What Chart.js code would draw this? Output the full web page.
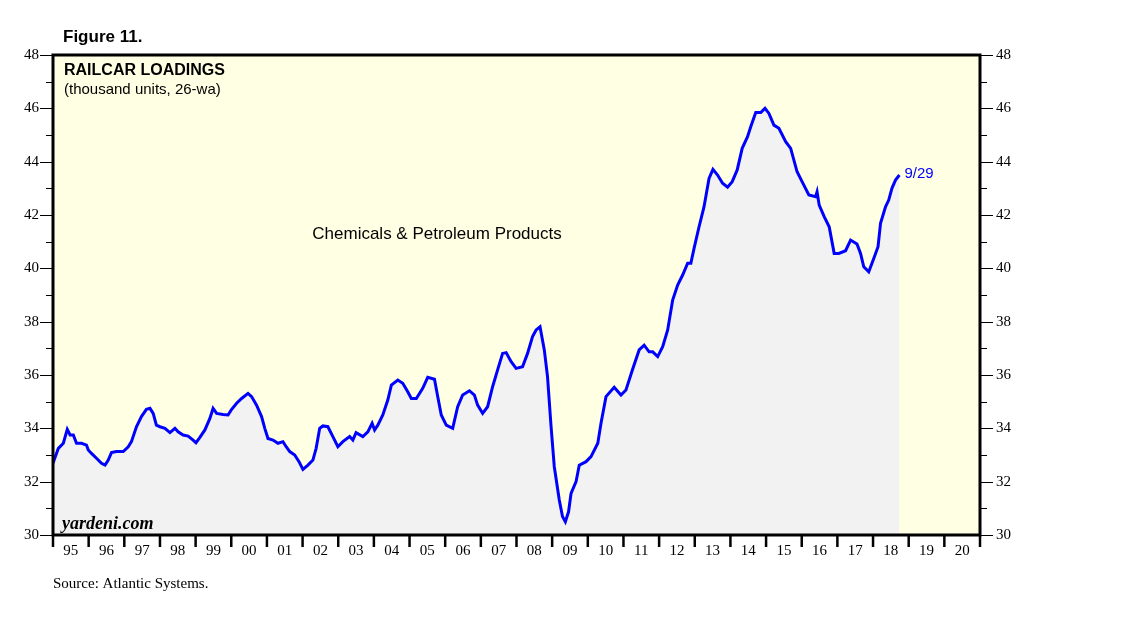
<!DOCTYPE html>
<html lang="en">
<head>
    <meta charset="UTF-8">
    <title>Railcar Loadings</title>
    <style>
        body {
            margin: 0;
            background-color: white;
        }
        #grafico {
            display: block;
        }
    </style>
</head>
<body>
    <canvas id="grafico" width="1138" height="621"></canvas>

    <script src="https://cdn.jsdelivr.net/npm/chart.js"></script>
    <script>
        // decimal years and 26-week average loadings (thousand units)
        const datas = [
            1995.00, 1995.15, 1995.29, 1995.40, 1995.48, 1995.57, 1995.66, 1995.80, 1995.94, 1995.99,
            1996.08, 1996.22, 1996.36, 1996.46, 1996.55, 1996.64, 1996.78, 1996.97,
            1997.11, 1997.20, 1997.34, 1997.48, 1997.62, 1997.72, 1997.81, 1997.90,
            1998.00, 1998.14, 1998.28, 1998.42, 1998.51, 1998.65, 1998.79, 1998.93,
            1999.01, 1999.12, 1999.26, 1999.40, 1999.49, 1999.59, 1999.77, 1999.91,
            2000.00, 2000.15, 2000.29, 2000.47, 2000.57, 2000.71, 2000.85, 2000.94,
            2001.03, 2001.17, 2001.31, 2001.45, 2001.54, 2001.64, 2001.78, 2001.90,
            2002.01, 2002.15, 2002.29, 2002.38, 2002.48, 2002.57, 2002.71, 2002.85, 2002.99,
            2003.13, 2003.32, 2003.41, 2003.50, 2003.69, 2003.83, 2003.95,
            2004.02, 2004.11, 2004.25, 2004.39, 2004.49, 2004.67, 2004.81, 2004.95,
            2005.05, 2005.19, 2005.37, 2005.51, 2005.70, 2005.79, 2005.89,
            2006.03, 2006.21, 2006.35, 2006.49, 2006.68, 2006.82, 2006.91,
            2007.05, 2007.19, 2007.33, 2007.47, 2007.61, 2007.71, 2007.85, 2007.99,
            2008.17, 2008.31, 2008.45, 2008.55, 2008.66, 2008.78, 2008.87, 2008.97,
            2009.06, 2009.20, 2009.29, 2009.37, 2009.46, 2009.53, 2009.67, 2009.76, 2009.95,
            2010.09, 2010.28, 2010.37, 2010.51, 2010.74, 2010.93,
            2011.07, 2011.25, 2011.44, 2011.58, 2011.72, 2011.82, 2011.96,
            2012.10, 2012.24, 2012.38, 2012.52, 2012.66, 2012.80, 2012.89, 2012.98,
            2013.12, 2013.26, 2013.40, 2013.51, 2013.64, 2013.78, 2013.92,
            2014.05, 2014.19, 2014.33, 2014.48, 2014.57, 2014.71, 2014.85, 2014.97,
            2015.08, 2015.22, 2015.36, 2015.55, 2015.69, 2015.87,
            2016.01, 2016.20, 2016.39, 2016.43, 2016.49, 2016.63, 2016.77, 2016.91,
            2017.04, 2017.23, 2017.37, 2017.55, 2017.65, 2017.74, 2017.88,
            2018.02, 2018.14, 2018.21, 2018.35, 2018.44, 2018.53, 2018.63, 2018.74
        ];
        const carregamentos = [
            32.69, 33.25, 33.44, 33.96, 33.75, 33.75, 33.44, 33.44, 33.37, 33.19,
            33.06, 32.88, 32.69, 32.62, 32.81, 33.09, 33.13, 33.13,
            33.31, 33.50, 34.06, 34.44, 34.71, 34.75, 34.56, 34.12,
            34.06, 34.00, 33.84, 34.00, 33.87, 33.75, 33.71, 33.56,
            33.46, 33.66, 33.94, 34.37, 34.75, 34.56, 34.52, 34.50,
            34.69, 34.94, 35.12, 35.31, 35.19, 34.87, 34.44, 34.00,
            33.62, 33.56, 33.44, 33.50, 33.31, 33.13, 33.00, 32.75,
            32.46, 32.62, 32.81, 33.25, 34.00, 34.09, 34.06, 33.69, 33.31,
            33.50, 33.69, 33.56, 33.84, 33.69, 33.87, 34.19,
            33.94, 34.12, 34.50, 35.06, 35.62, 35.81, 35.69, 35.37,
            35.12, 35.12, 35.50, 35.91, 35.84, 35.19, 34.50,
            34.12, 34.00, 34.81, 35.25, 35.41, 35.25, 34.87,
            34.56, 34.81, 35.56, 36.19, 36.81, 36.84, 36.50, 36.25,
            36.31, 36.81, 37.44, 37.69, 37.81, 36.94, 35.94, 34.06,
            32.56, 31.31, 30.69, 30.50, 30.87, 31.56, 32.00, 32.62, 32.75,
            32.94, 33.44, 34.19, 35.19, 35.54, 35.25,
            35.44, 36.19, 36.94, 37.12, 36.87, 36.87, 36.69,
            37.06, 37.69, 38.81, 39.37, 39.75, 40.19, 40.19, 40.75,
            41.56, 42.31, 43.37, 43.71, 43.50, 43.19, 43.04,
            43.25, 43.69, 44.50, 44.94, 45.31, 45.84, 45.84, 46.00,
            45.81, 45.37, 45.25, 44.75, 44.50, 43.62,
            43.25, 42.75, 42.69, 42.87, 42.37, 41.94, 41.56, 40.56,
            40.56, 40.66, 41.06, 40.91, 40.56, 40.06, 39.87,
            40.37, 40.81, 41.69, 42.31, 42.56, 43.00, 43.31, 43.50
        ];
        const anos = ['95', '96', '97', '98', '99', '00', '01', '02', '03', '04', '05', '06', '07',
            '08', '09', '10', '11', '12', '13', '14', '15', '16', '17', '18', '19', '20'];
        const primeiroAno = 1995;
        const valoresY = [30, 32, 34, 36, 38, 40, 42, 44, 46, 48];
        const ultimaData = '9/29';

        const pontos = datas.map((d, i) => ({ x: d, y: carregamentos[i] }));

        // fundo amarelo, moldura, marcas e textos
        const moldura = {
            id: 'moldura',
            beforeDraw(chart) {
                const { ctx, chartArea: a } = chart;
                ctx.save();
                ctx.fillStyle = '#ffffe3';
                ctx.fillRect(a.left, a.top, a.right - a.left, a.bottom - a.top);
                ctx.restore();
            },
            afterDraw(chart) {
                const { ctx, chartArea: a } = chart;
                const x = chart.scales.x;
                const y = chart.scales.y;
                ctx.save();
                ctx.strokeStyle = '#000';
                ctx.fillStyle = '#000';

                // ticks do eixo Y (maiores nos pares)
                ctx.lineWidth = 1.2;
                for (let v = 30; v <= 48; v++) {
                    const py = Math.round(y.getPixelForValue(v)) + 0.5;
                    const len = v % 2 === 0 ? 13 : 7;
                    ctx.beginPath();
                    ctx.moveTo(a.left - len, py);
                    ctx.lineTo(a.left, py);
                    ctx.moveTo(a.right, py);
                    ctx.lineTo(a.right + len, py);
                    ctx.stroke();
                }
                ctx.font = '15px "Liberation Serif", "Times New Roman", serif';
                ctx.textBaseline = 'middle';
                valoresY.forEach(v => {
                    const py = y.getPixelForValue(v);
                    ctx.textAlign = 'right';
                    ctx.fillText(String(v), a.left - 14, py);
                    ctx.textAlign = 'left';
                    ctx.fillText(String(v), a.right + 16, py);
                });

                // ticks e rótulos do eixo X
                ctx.lineWidth = 2.5;
                for (let i = 0; i <= anos.length; i++) {
                    const px = x.getPixelForValue(primeiroAno + i);
                    ctx.beginPath();
                    ctx.moveTo(px, a.bottom);
                    ctx.lineTo(px, a.bottom + 12);
                    ctx.stroke();
                }
                ctx.textAlign = 'center';
                ctx.textBaseline = 'alphabetic';
                anos.forEach((t, i) => {
                    ctx.fillText(t, x.getPixelForValue(primeiroAno + i + 0.5), a.bottom + 20);
                });

                // moldura grossa
                ctx.lineWidth = 3;
                ctx.strokeRect(a.left, a.top, a.right - a.left, a.bottom - a.top);

                // textos
                ctx.textAlign = 'left';
                ctx.font = 'bold 17px "Liberation Sans", Arial, sans-serif';
                ctx.fillText('Figure 11.', 63, 42);
                ctx.font = 'bold 16px "Liberation Sans", Arial, sans-serif';
                ctx.fillText('RAILCAR LOADINGS', 64, 75);
                ctx.font = '15px "Liberation Sans", Arial, sans-serif';
                ctx.fillText('(thousand units, 26-wa)', 64, 94);
                ctx.textAlign = 'center';
                ctx.font = '17px "Liberation Sans", Arial, sans-serif';
                ctx.fillText('Chemicals & Petroleum Products', 437, 239);
                ctx.textAlign = 'left';
                ctx.font = 'italic bold 18px "Liberation Serif", "Times New Roman", serif';
                ctx.fillText('yardeni.com', 62, 529);
                ctx.font = '15px "Liberation Serif", "Times New Roman", serif';
                ctx.fillText('Source: Atlantic Systems.', 53, 588);

                const ultimo = pontos[pontos.length - 1];
                ctx.fillStyle = '#0000ff';
                ctx.font = '15px "Liberation Sans", Arial, sans-serif';
                ctx.textBaseline = 'middle';
                ctx.fillText(ultimaData, x.getPixelForValue(ultimo.x) + 5, y.getPixelForValue(ultimo.y) - 1);
                ctx.restore();
            }
        };

        const ctx = document.getElementById('grafico').getContext('2d');
        const grafico = new Chart(ctx, {
            type: 'line',
            data: {
                datasets: [{
                    label: 'Chemicals & Petroleum Products',
                    data: pontos,
                    borderColor: '#0000ff',
                    borderWidth: 3,
                    backgroundColor: '#f2f2f2',
                    fill: 'start',
                    pointRadius: 0,
                    tension: 0
                }]
            },
            options: {
                responsive: false,
                animation: false,
                devicePixelRatio: 1,
                layout: {
                    padding: { left: 53, top: 55, right: 158, bottom: 86 }
                },
                plugins: {
                    legend: { display: false },
                    tooltip: { enabled: false }
                },
                scales: {
                    x: {
                        type: 'linear',
                        min: primeiroAno,
                        max: primeiroAno + anos.length,
                        display: false
                    },
                    y: {
                        min: 30,
                        max: 48,
                        display: false
                    }
                }
            },
            plugins: [moldura]
        });
    </script>
</body>
</html>
